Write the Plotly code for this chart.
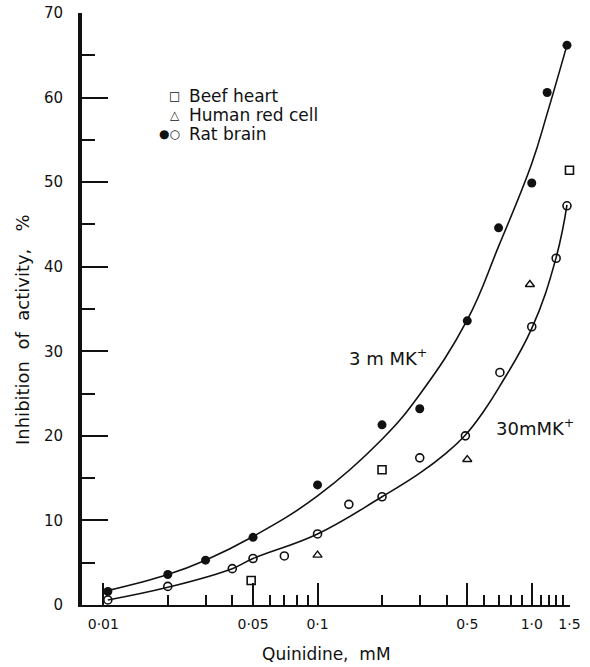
import plotly.graph_objects as go

# ---- data ----
rat3_x = [0.0105, 0.02, 0.03, 0.05, 0.1, 0.2, 0.3, 0.5, 0.7, 1.0, 1.18, 1.46]
rat3_y = [1.6, 3.6, 5.3, 8.0, 14.2, 21.3, 23.2, 33.6, 44.6, 49.9, 60.6, 66.2]

rat30_x = [0.0105, 0.02, 0.04, 0.05, 0.07, 0.1, 0.14, 0.2, 0.3, 0.49, 0.71, 1.0, 1.3, 1.46]
rat30_y = [0.6, 2.2, 4.3, 5.5, 5.8, 8.4, 11.9, 12.8, 17.4, 20.0, 27.5, 32.9, 41.0, 47.2]

beef_x = [0.049, 0.2, 1.5]
beef_y = [2.9, 16.0, 51.4]

human_x = [0.1, 0.5, 0.98]
human_y = [5.9, 17.2, 37.9]

# fitted curves
curve3_x = [0.0105, 0.02, 0.03, 0.05, 0.1, 0.2, 0.3, 0.5, 0.7, 1.0, 1.18, 1.46]
curve3_y = [1.7, 3.6, 5.3, 8.1, 12.9, 19.6, 24.9, 33.7, 42.4, 52.2, 58.1, 66.2]

curve30_x = [0.0105, 0.02, 0.04, 0.05, 0.1, 0.2, 0.3, 0.4, 0.49, 0.6, 0.71, 1.0, 1.3, 1.46]
curve30_y = [0.6, 2.1, 4.3, 5.5, 8.4, 12.8, 15.6, 18.0, 20.1, 23.0, 25.9, 32.7, 41.1, 47.3]

x_major = [0.01, 0.05, 0.1, 0.5, 1.0, 1.5]
x_major_text = ["0·01", "0·05", "0·1", "0·5", "1·0", "1·5"]
x_minor = [0.02, 0.03, 0.04, 0.06, 0.07, 0.08, 0.09, 0.2, 0.3, 0.4,
           0.6, 0.7, 0.8, 0.9, 1.1, 1.2, 1.3, 1.4]
y_major = [0, 10, 20, 30, 40, 50, 60, 70]

FONT = "DejaVu Sans"
BLACK = "#111111"

# plot box in pixels (used only for placing text labels)
L, R, T, B = 82, 570, 13, 605
W, H = R - L, B - T


def px(xp, yp):
    return (xp - L) / W, (B - yp) / H


fig = go.Figure()

for cx, cy in [(curve3_x, curve3_y), (curve30_x, curve30_y)]:
    fig.add_trace(go.Scatter(x=cx, y=cy, mode="lines",
                             line=dict(color=BLACK, width=1.6, shape="spline", smoothing=1.2),
                             hoverinfo="skip"))

fig.add_trace(go.Scatter(x=rat3_x, y=rat3_y, mode="markers", cliponaxis=False,
                         marker=dict(symbol="circle", size=9, color=BLACK)))
fig.add_trace(go.Scatter(x=rat30_x, y=rat30_y, mode="markers", cliponaxis=False,
                         marker=dict(symbol="circle-open", size=8, color=BLACK,
                                     line=dict(width=1.6, color=BLACK))))
fig.add_trace(go.Scatter(x=beef_x, y=beef_y, mode="markers", cliponaxis=False,
                         marker=dict(symbol="square-open", size=8, color=BLACK,
                                     line=dict(width=1.6, color=BLACK))))
fig.add_trace(go.Scatter(x=human_x, y=human_y, mode="markers", cliponaxis=False,
                         marker=dict(symbol="triangle-up-open", size=8, color=BLACK,
                                     line=dict(width=1.4, color=BLACK))))


def note(text, xp, yp, size, xanchor="center", angle=0):
    ax, ay = px(xp, yp)
    return dict(text=text, x=ax, y=ay, xref="paper", yref="paper",
                xanchor=xanchor, yanchor="middle", textangle=angle, borderpad=0,
                showarrow=False, font=dict(family=FONT, size=size, color=BLACK))


annotations = [
    note("Quinidine,  mM", 326, 654, 17),
    note("Inhibition  of  activity,   %", 22, 330, 18, angle=-90),
    note("3 m MK<sup>+</sup>", 388, 357, 18),
    note("30mMK<sup>+</sup>", 535, 427, 18),
]

# legend block
leg = [("□", "Beef heart", 96), ("△", "Human red cell", 115), ("●○", "Rat brain", 134)]
for sym, lab, ypx in leg:
    annotations.append(note(sym, 181, ypx, 12, xanchor="right"))
    annotations.append(note(lab, 188, ypx, 17, xanchor="left"))

fig.update_layout(
    width=590, height=667,
    margin=dict(l=L, r=590 - R, t=T, b=667 - B, autoexpand=False),
    paper_bgcolor="white", plot_bgcolor="white",
    showlegend=False,
    font=dict(family=FONT, color=BLACK),
    annotations=annotations,
    xaxis=dict(
        type="log", range=[-2.0995, 0.1785], automargin=False,
        showgrid=False, zeroline=False,
        showline=True, linewidth=2, linecolor=BLACK,
        ticks="inside", ticklen=22, tickwidth=1.5, tickcolor=BLACK,
        tickmode="array", tickvals=x_major, ticktext=x_major_text,
        tickfont=dict(family=FONT, size=14, color=BLACK),
        ticklabelstandoff=5,
        minor=dict(tickmode="array", tickvals=x_minor, ticks="inside",
                   ticklen=10, tickwidth=1.5, tickcolor=BLACK, showgrid=False),
    ),
    yaxis=dict(
        range=[0, 70], automargin=False,
        showgrid=False, zeroline=False,
        showline=True, linewidth=4, linecolor=BLACK,
        ticks="inside", ticklen=26, tickwidth=1.5, tickcolor=BLACK,
        tickmode="array", tickvals=y_major,
        tickfont=dict(family=FONT, size=15, color=BLACK),
        ticklabelstandoff=12,
        minor=dict(dtick=5, ticks="inside", ticklen=13, tickwidth=1.5,
                   tickcolor=BLACK, showgrid=False),
    ),
)

fig.write_html("out.html")
